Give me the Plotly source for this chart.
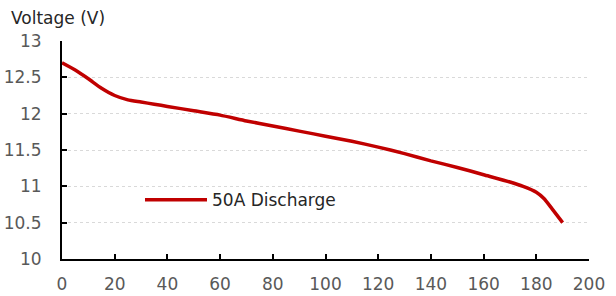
import plotly.graph_objects as go

time_min = [0, 5, 10, 15, 20, 25, 30, 35, 40, 50, 60, 70, 80, 90, 100, 110, 120,
            130, 140, 150, 160, 170, 175, 180, 183, 186, 190]
voltage = [12.70, 12.60, 12.48, 12.35, 12.25, 12.19, 12.16, 12.13, 12.10, 12.04,
           11.98, 11.90, 11.83, 11.76, 11.69, 11.62, 11.54, 11.45, 11.35, 11.26,
           11.16, 11.06, 11.00, 10.92, 10.83, 10.69, 10.50]
series_name = "50A Discharge"
x_ticks = [0, 20, 40, 60, 80, 100, 120, 140, 160, 180, 200]
y_ticks = [10, 10.5, 11, 11.5, 12, 12.5, 13]
y_tick_labels = ["10", "10.5", "11", "11.5", "12", "12.5", "13"]

FONT = "DejaVu Sans"

fig = go.Figure()
fig.add_trace(go.Scatter(
    x=time_min, y=voltage, mode="lines", name=series_name,
    line=dict(color="#c00000", width=3.5, shape="spline", smoothing=0.6),
))

fig.update_layout(
    width=616, height=296,
    margin=dict(l=62, r=27, t=41, b=37),
    paper_bgcolor="white", plot_bgcolor="white",
    font=dict(family=FONT, size=17, color="#595959"),
    showlegend=True,
    legend=dict(x=0.148, y=0.27, xanchor="left", yanchor="middle",
                bgcolor="rgba(0,0,0,0)", itemwidth=62,
                font=dict(family=FONT, size=17, color="#262626")),
    annotations=[dict(text="Voltage (V)", xref="paper", yref="paper",
                      x=-0.1, y=1.105, xanchor="left", yanchor="middle",
                      showarrow=False,
                      font=dict(family=FONT, size=17, color="#262626"))],
)
fig.update_xaxes(
    range=[0, 200], tickvals=x_ticks, showgrid=False, zeroline=False,
    automargin=False,
    showline=True, linecolor="black", linewidth=2,
    ticks="inside", ticklen=5, tickwidth=2, tickcolor="black",
    ticklabelstandoff=9,
    tickfont=dict(family=FONT, size=17, color="#595959"),
)
fig.update_yaxes(
    range=[10, 13], tickvals=y_ticks, ticktext=y_tick_labels,
    showgrid=True, gridcolor="#d9d9d9", griddash="dot", gridwidth=1,
    zeroline=False, automargin=False,
    showline=True, linecolor="black", linewidth=2,
    ticks="inside", ticklen=5, tickwidth=2, tickcolor="black",
    ticklabelstandoff=15,
    tickfont=dict(family=FONT, size=17, color="#595959"),
)
fig.write_html("out.html", config={"displayModeBar": False},
               post_script="document.body.style.margin='0';")
